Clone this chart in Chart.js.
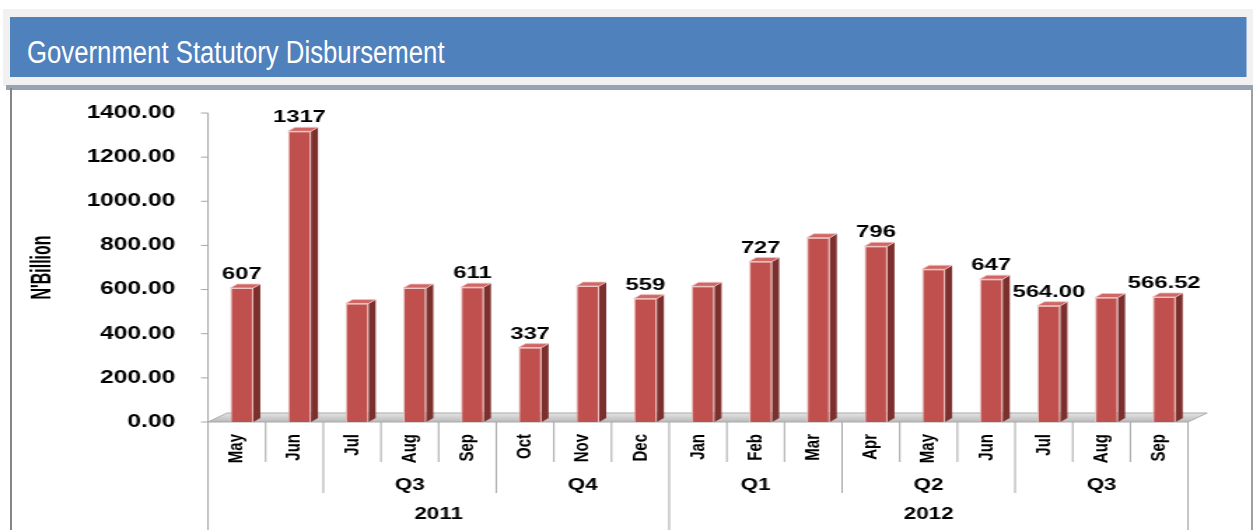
<!DOCTYPE html>
<html>
<head>
<meta charset="utf-8">
<script src="https://cdn.jsdelivr.net/npm/chart.js@4.4.0/dist/chart.umd.min.js"></script>
<style>
  html, body { margin: 0; padding: 0; background: #fff; }
  body { width: 1253px; height: 530px; position: relative; overflow: hidden; font-family: "Liberation Sans", Arial, sans-serif; }
  .strip { position: absolute; left: 3px; top: 9px; width: 1250px; height: 77px; background: #f1f1f1; }
  .head { position: absolute; left: 10px; top: 17px; width: 1236px; height: 60px; background: #4f81bd; border-right: 1px solid #9db8dc; }
  .head span { position: absolute; left: 17px; top: 21px; line-height: 30px; color: #fff; font-size: 31px; white-space: nowrap; transform: scaleX(0.83); transform-origin: 0 0; }
  .rule { position: absolute; left: 6px; top: 85px; width: 1247px; height: 5px; background: #97a3b3; }
  .edge { position: absolute; top: 88px; bottom: 0; width: 2px; background: #858585; }
  canvas { position: absolute; left: 0; top: 90px; transform: scaleX(1.4); transform-origin: 0 0; }
</style>
</head>
<body>
<div class="strip"></div>
<div class="head"><span>Government Statutory Disbursement</span></div>
<div class="rule"></div>
<div class="edge" style="left:10px"></div>
<div class="edge" style="left:1251px;background:#a0a0a0"></div>
<canvas id="chart" width="895" height="440"></canvas>
<script>
const months = ['May', 'Jun', 'Jul', 'Aug', 'Sep', 'Oct', 'Nov', 'Dec', 'Jan', 'Feb', 'Mar', 'Apr', 'May', 'Jun', 'Jul', 'Aug', 'Sep'];
const quarters = ['', '', 'Q3', 'Q3', 'Q3', 'Q4', 'Q4', 'Q4', 'Q1', 'Q1', 'Q1', 'Q2', 'Q2', 'Q2', 'Q3', 'Q3', 'Q3'];
const years = ['2011', '2011', '2011', '2011', '2011', '2011', '2011', '2011', '2012', '2012', '2012', '2012', '2012', '2012', '2012', '2012', '2012'];
const disbursement = [607, 1317, 537, 607, 611, 337, 616, 559, 615, 727, 835, 796, 692, 647, 527, 564, 566.52];
const valueLabels = ['607', '1317', '', '', '611', '337', '', '559', '', '727', '', '796', '', '647', '564.00', '', '566.52'];
const yTitle = "N'Billion";

const SX = 1.4;          // the picture is stretched sideways, canvas is drawn narrow
const SHIFT = 5 / SX;    // bars sit a bit right of their category cells
const DX = 5, DY = 4;    // depth of the 3d bars
const arial = '"Liberation Sans", Arial, sans-serif';

const chart3d = {
  id: 'chart3d',
  beforeDatasetsDraw(chart) {
    const { ctx, chartArea: a, scales: { y } } = chart;
    const left = a.left - SHIFT, right = a.right - SHIFT, base = y.getPixelForValue(0);
    ctx.save();
    // floor
    ctx.beginPath();
    ctx.moveTo(left, base);
    ctx.lineTo(right, base);
    ctx.lineTo(right + 19 / SX, base - 9);
    ctx.lineTo(left + 19 / SX, base - 9);
    ctx.closePath();
    const g = ctx.createLinearGradient(0, base - 9, 0, base);
    g.addColorStop(0, '#e6e6e6');
    g.addColorStop(1, '#b9b9b9');
    ctx.fillStyle = g;
    ctx.fill();
    ctx.strokeStyle = '#a9a9a9';
    ctx.lineWidth = 1;
    ctx.stroke();
    // y axis line and tick marks
    ctx.strokeStyle = '#a6a6a6';
    ctx.beginPath();
    ctx.moveTo(left, y.getPixelForValue(y.max));
    ctx.lineTo(left, base);
    y.ticks.forEach(t => {
      const py = y.getPixelForValue(t.value);
      ctx.moveTo(left - 7 / SX, py);
      ctx.lineTo(left, py);
    });
    ctx.stroke();
    ctx.restore();
  },
  afterDatasetsDraw(chart) {
    const { ctx } = chart;
    const meta = chart.getDatasetMeta(0);
    ctx.save();
    meta.data.forEach((bar, i) => {
      const { x, y, base, width } = bar.getProps(['x', 'y', 'base', 'width'], true);
      const l = x - width / 2, r = x + width / 2;
      ctx.beginPath();
      ctx.moveTo(r, y);
      ctx.lineTo(r + DX, y - DY);
      ctx.lineTo(r + DX, base - DY);
      ctx.lineTo(r, base);
      ctx.closePath();
      ctx.fillStyle = '#7c302e';
      ctx.fill();
      ctx.beginPath();
      ctx.moveTo(l, y);
      ctx.lineTo(l + DX, y - DY);
      ctx.lineTo(r + DX, y - DY);
      ctx.lineTo(r, y);
      ctx.closePath();
      ctx.fillStyle = '#cf6764';
      ctx.fill();
      ctx.strokeStyle = '#efc7c6';
      ctx.lineWidth = 0.8;
      ctx.stroke();
      if (valueLabels[i]) {
        ctx.fillStyle = '#000';
        ctx.font = 'bold 17px ' + arial;
        ctx.textAlign = 'center';
        ctx.textBaseline = 'alphabetic';
        ctx.fillText(valueLabels[i], x, y - 9);
      }
    });
    ctx.restore();
  },
  afterDraw(chart) {
    const { ctx, chartArea: a, scales: { x } } = chart;
    const n = months.length;
    const w = (a.right - a.left) / n;
    const edge = i => x.getPixelForValue(0) - w / 2 + i * w - SHIFT;
    const lens = [40, 71, chart.height - a.bottom];
    const level = i => {
      if (i === 0 || i === n || years[i] !== years[i - 1]) return 2;
      if (quarters[i] !== quarters[i - 1]) return 1;
      return 0;
    };
    ctx.save();
    ctx.strokeStyle = '#a6a6a6';
    ctx.lineWidth = 1;
    ctx.beginPath();
    for (let i = 0; i <= n; i++) {
      ctx.moveTo(edge(i), a.bottom);
      ctx.lineTo(edge(i), a.bottom + lens[level(i)]);
    }
    ctx.stroke();
    ctx.fillStyle = '#000';
    ctx.font = 'bold 16px ' + arial;
    ctx.textAlign = 'center';
    ctx.textBaseline = 'middle';
    const spans = (arr, cy) => {
      let s = 0;
      for (let i = 1; i <= n; i++) {
        if (i === n || arr[i] !== arr[s]) {
          if (arr[s]) ctx.fillText(arr[s], (edge(s) + edge(i)) / 2, cy);
          s = i;
        }
      }
    };
    spans(quarters, a.bottom + 64);
    spans(years, a.bottom + 93);
    // axis title, narrow face like the original
    ctx.translate(30.4, (a.top + a.bottom) / 2);
    ctx.rotate(-Math.PI / 2);
    ctx.scale(0.76, 1);
    ctx.font = 'bold 21px ' + arial;
    ctx.fillText(yTitle, 0, 0);
    ctx.restore();
  }
};

new Chart(document.getElementById('chart'), {
  type: 'bar',
  data: {
    labels: months,
    datasets: [{
      data: disbursement,
      backgroundColor: '#c0504d',
      borderColor: '#eec3c2',
      borderWidth: 1,
      borderSkipped: 'bottom',
      barPercentage: 0.4,
      categoryPercentage: 1
    }]
  },
  options: {
    responsive: false,
    animation: false,
    devicePixelRatio: 1,
    layout: { padding: { top: 23, right: 895 - 1193 / SX, left: 0, bottom: 0 } },
    plugins: { legend: { display: false }, tooltip: { enabled: false } },
    scales: {
      x: {
        grid: { display: false, drawTicks: false },
        border: { display: false },
        ticks: {
          autoSkip: false, minRotation: 90, maxRotation: 90, padding: 12, labelOffset: -SHIFT,
          color: '#000', font: { family: arial, weight: 'bold', size: 15 }
        },
        afterFit(s) { s.height = 108; s.paddingLeft = 0; s.paddingRight = 0; }
      },
      y: {
        min: 0, max: 1400,
        grid: { display: false, drawTicks: false },
        border: { display: false },
        ticks: {
          stepSize: 200, padding: 27, color: '#000',
          font: { family: arial, weight: 'bold', size: 17.5 },
          callback: v => v.toFixed(2)
        },
        afterFit(s) { s.width = 213 / SX; s.paddingTop = 0; s.paddingBottom = 0; }
      }
    }
  },
  plugins: [chart3d]
});
</script>
</body>
</html>
